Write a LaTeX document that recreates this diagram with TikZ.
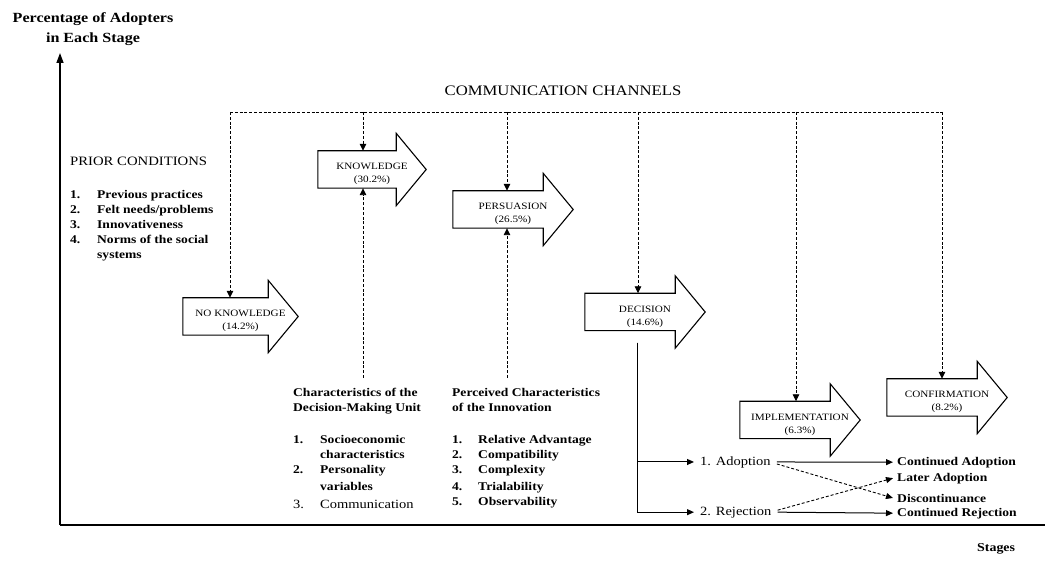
\documentclass[tikz,border=0pt]{standalone}
\usepackage{fontspec}
\setmainfont{Liberation Serif}[FakeStretch=1.15]
\usetikzlibrary{arrows.meta,calc}
\newcommand\stagearrow[5]{%
  \node[stagebody, minimum width=#4pt] (#1) at (#2+#4/2,#3) {};
  \draw[stageline] (#1.north west) -- ([xshift=-30pt]#1.north east)
     -- ([xshift=-30pt,yshift=17.5pt]#1.north east) -- (#1.east)
     -- ([xshift=-30pt,yshift=-17.5pt]#1.south east) -- ([xshift=-30pt]#1.south east)
     -- (#1.south west) -- cycle;
  \node[stagelabel] (#1l) at ([yshift=-4.5pt]#1.center) {#5};
}
\newcommand\itm[3]{\makebox[#1pt][l]{#2}#3}
\tikzset{
  every node/.style={inner sep=0pt},
  stagebody/.style={minimum height=37pt, inner sep=0pt},
  stageline/.style={line width=1.1pt, line join=miter},
  stagelabel/.style={font=\fontsize{9.7}{13}\selectfont, align=center},
  ccline/.style={line width=0.9pt, dash pattern=on 3pt off 1.8pt},
  cctip/.style={-{Triangle[length=7pt,width=6.5pt]}},
  conn/.style={line width=1pt, -{Triangle[length=7pt,width=6pt]}},
  dconn/.style={line width=0.9pt, dash pattern=on 3pt off 2pt, -{Triangle[length=7pt,width=6pt]}},
  axisline/.style={line width=1.4pt},
  hdb/.style={font=\fontsize{14}{18}\selectfont\bfseries, anchor=base},
  pcap/.style={font=\fontsize{12.8}{15}\selectfont, anchor=base west},
  ccap/.style={font=\fontsize{14.5}{17}\selectfont, anchor=base},
  lst/.style={font=\fontsize{11.8}{15}\selectfont\bfseries, anchor=base west},
  reg/.style={font=\fontsize{12.6}{15}\selectfont, anchor=base west},
  opt/.style={font=\fontsize{12.6}{15}\selectfont, anchor=base west, inner xsep=6pt},
  outc/.style={font=\fontsize{11.8}{15}\selectfont\bfseries, anchor=base west, inner xsep=4pt},
}
\begin{document}
\begin{tikzpicture}[x=1pt,y=-1pt]
\useasboundingbox (0,0) rectangle (1045,561);

% axes
\coordinate (org) at (60,525);
\coordinate (ytop) at (60,53);
\coordinate (xend) at (1045,525);
\draw[axisline,-{Triangle[length=10pt,width=7pt]}] (org) -- (ytop);
\draw[axisline] (org) -- (xend);
\node[hdb] (ylab1) at (93,23) {Percentage of Adopters};
\node[hdb] (ylab2) at (93,43) {in Each Stage};
\node[hdb, font=\fontsize{12.1}{15}\selectfont\bfseries, anchor=base west] (stg) at (977,551) {Stages};

% stage arrows
\stagearrow{nk}{183}{316.5}{115}{NO KNOWLEDGE\\(14.2\%)}
\stagearrow{kn}{318}{169.5}{108}{KNOWLEDGE\\(30.2\%)}
\stagearrow{pe}{453}{209.5}{120}{PERSUASION\\(26.5\%)}
\stagearrow{de}{585}{312}{120}{DECISION\\(14.6\%)}
\stagearrow{im}{740}{420}{120}{IMPLEMENTATION\\(6.3\%)}
\stagearrow{co}{887}{397.5}{120}{CONFIRMATION\\(8.2\%)}

% communication channels
\node[ccap] (cc) at (563,96) {COMMUNICATION CHANNELS};
\coordinate (d1) at (230,112);
\coordinate (d2) at (363,112);
\coordinate (d3) at (507,112);
\coordinate (d4) at (638,112);
\coordinate (d5) at (796,112);
\coordinate (d6) at (942,112);
\draw[ccline] (d1) -- (d6);
\draw[ccline,cctip] (d1) -- (d1 |- nk.north);
\draw[ccline,cctip] (d2) -- (d2 |- kn.north);
\draw[ccline,cctip] (d3) -- (d3 |- pe.north);
\draw[ccline,cctip] (d4) -- (d4 |- de.north);
\draw[ccline,cctip] (d5) -- (d5 |- im.north);
\draw[ccline,cctip] (d6) -- (d6 |- co.north);

% prior conditions
\node[pcap] (pc) at (70,166) {PRIOR CONDITIONS};
\node[lst] (pc1) at (70,199) {\itm{27}{1.}{Previous practices}};
\node[lst] (pc2) at (70,214) {\itm{27}{2.}{Felt needs/problems}};
\node[lst] (pc3) at (70,229) {\itm{27}{3.}{Innovativeness}};
\node[lst] (pc4) at (70,244) {\itm{27}{4.}{Norms of the social}};
\node[lst] (pc4b) at (97,259) {systems};

% decision-making unit
\coordinate (ku) at (363,378);
\coordinate (pu) at (507,378);
\draw[ccline,cctip] (ku) -- (ku |- kn.south);
\draw[ccline,cctip] (pu) -- (pu |- pe.south);
\node[lst] (dm1) at (293,397) {Characteristics of the};
\node[lst] (dm2) at (293,412) {Decision-Making Unit};
\node[lst] (dm3) at (293,443) {\itm{27}{1.}{Socioeconomic}};
\node[lst] (dm3b) at (320,458) {characteristics};
\node[lst] (dm4) at (293,474) {\itm{27}{2.}{Personality}};
\node[lst] (dm4b) at (320,490) {variables};
\node[reg] (dm5) at (293,508) {\itm{27}{3.}{Communication}};

% perceived characteristics
\node[lst] (pi1) at (452,397) {Perceived Characteristics};
\node[lst] (pi2) at (452,412) {of the Innovation};
\node[lst] (pi3) at (452,443) {\itm{26}{1.}{Relative Advantage}};
\node[lst] (pi4) at (452,458) {\itm{26}{2.}{Compatibility}};
\node[lst] (pi5) at (452,474) {\itm{26}{3.}{Complexity}};
\node[lst] (pi6) at (452,490) {\itm{26}{4.}{Trialability}};
\node[lst] (pi7) at (452,505) {\itm{26}{5.}{Observability}};

% decision outcomes
\node[opt] (ad) at (694,465) {1. Adoption};
\node[opt] (rj) at (694,515) {2. Rejection};
\node[outc] (ca) at (893,465) {Continued Adoption};
\node[outc] (la) at (893,481) {Later Adoption};
\node[outc] (dc) at (893,502) {Discontinuance};
\node[outc] (cr) at (893,516) {Continued Rejection};

\draw[conn] ([xshift=-8pt,yshift=-12pt]de.south) |- (ad.west);
\draw[conn] ([xshift=-8pt,yshift=-12pt]de.south) |- (rj.west);
\draw[conn] (ad.east) -- (ca.west);
\draw[conn] (rj.east) -- (cr.west);
\draw[dconn] ([yshift=-2pt]ad.east) -- (dc.west);
\draw[dconn] ([yshift=2pt]rj.east) -- (la.west);
\end{tikzpicture}
\end{document}
